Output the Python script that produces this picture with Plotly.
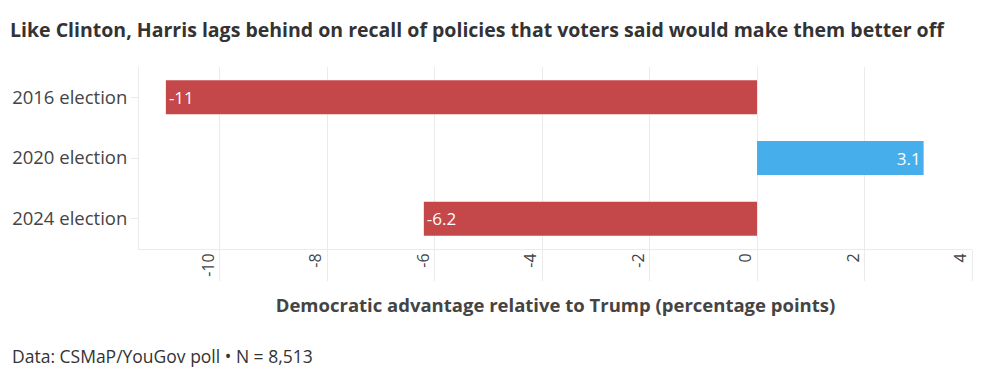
import plotly.graph_objects as go

categories = ["2016 election", "2020 election", "2024 election"]
values = [-11, 3.1, -6.2]
tick_vals = [-10, -8, -6, -4, -2, 0, 2, 4]
tick_text = [str(v) for v in tick_vals]

RED = "#C4474A"
BLUE = "#45AEEB"
FONT = "Open Sans"

colors = [RED if v < 0 else BLUE for v in values]
labels = [f"{v:g}" for v in values]

W, H = 980, 367
L, T, R, B = 131, 59, 16, 126
PH = H - T - B

fig = go.Figure(go.Bar(
    x=values, y=categories, orientation="h",
    marker=dict(color=colors, line=dict(width=0)),
    text=labels, textposition="inside", insidetextanchor="end",
    textfont=dict(color="white", size=17, family=FONT),
    width=0.56, hoverinfo="skip",
))

fig.update_layout(
    width=W, height=H,
    margin=dict(l=L, r=R, t=T, b=B, autoexpand=False),
    paper_bgcolor="white", plot_bgcolor="white",
    showlegend=False,
    font=dict(family=FONT, color="#444444"),
    title=dict(
        text="<b>Like Clinton, Harris lags behind on recall of policies that voters said would make them better off</b>",
        x=2/W, xanchor="left", xref="container",
        y=1-22/H, yanchor="middle", yref="container",
        font=dict(size=19.5, color="#333333", family=FONT),
    ),
    xaxis=dict(
        range=[-11.5, 4.0], tickvals=tick_vals, ticktext=tick_text, tickangle=-90,
        automargin=False,
        showgrid=True, gridcolor="#EBEBEB", gridwidth=1,
        zeroline=False, showline=True, linecolor="#EBEBEB", linewidth=1,
        ticks="outside", ticklen=31, tickcolor="#EBEBEB", tickwidth=1,
        ticklabelstandoff=-34, ticklabelshift=-11,
        tickfont=dict(size=16, color="#444444", family=FONT),
        title=dict(text="<b>Democratic advantage relative to Trump (percentage points)</b>",
                   font=dict(size=18.5, color="#444444", family=FONT), standoff=23),
    ),
    yaxis=dict(
        autorange="reversed", showgrid=False, zeroline=False, automargin=False,
        showline=True, linecolor="#EBEBEB", linewidth=1,
        ticks="outside", ticklen=7, tickcolor="#EBEBEB",
        tickfont=dict(size=18.5, color="#444444", family=FONT),
    ),
    annotations=[dict(
        text="Data: CSMaP/YouGov poll • N = 8,513",
        xref="paper", yref="paper", x=(2-L)/(W-L-R), y=-(348-(T+PH))/PH,
        xanchor="left", yanchor="middle", showarrow=False,
        font=dict(size=17.5, color="#333333", family=FONT),
    )],
)

fig.write_html("out.html")
